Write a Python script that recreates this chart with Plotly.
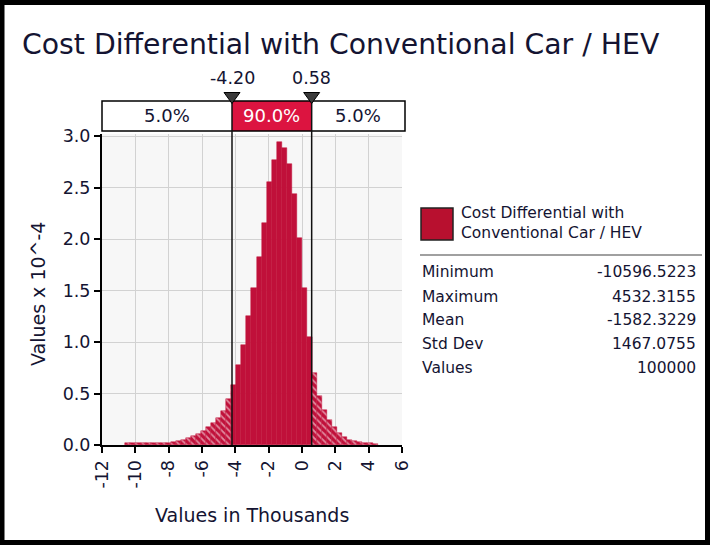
import numpy as np
import plotly.graph_objects as go

# ---------------- data ----------------
title_text = "Cost Differential with Conventional Car / HEV"
series_name = "Cost Differential with<br>Conventional Car / HEV"

stat_names = ["Minimum", "Maximum", "Mean", "Std Dev", "Values"]
stat_values = [-10596.5223, 4532.3155, -1582.3229, 1467.0755, 100000]

# 90% interval delimiters (thousands)
p_low = -4.20
p_high = 0.58
band_pcts = [5.0, 90.0, 5.0]

# histogram: 50 equal bins between min and max, densities (x 10^-4)
n_bins = 50
densities = [
    0.018, 0.018, 0.019, 0.019, 0.020, 0.020, 0.021, 0.022, 0.024, 0.030,
    0.040, 0.050, 0.065, 0.085, 0.110, 0.140, 0.170, 0.210, 0.260, 0.330,
    0.450, 0.580, 0.780, 0.970, 1.250, 1.520, 1.830, 2.160, 2.550, 2.770,
    2.940, 2.880, 2.730, 2.440, 2.010, 1.520, 1.050, 0.700, 0.480, 0.340,
    0.240, 0.170, 0.115, 0.075, 0.050, 0.035, 0.025, 0.020, 0.015, 0.012,
]

x_ticks = [-12, -10, -8, -6, -4, -2, 0, 2, 4, 6]
y_ticks = [0.0, 0.5, 1.0, 1.5, 2.0, 2.5, 3.0]

# ---------------- layout geometry ----------------
W, H = 710, 545
L, R, T, B = 102, 308, 134, 100
PW = W - L - R
PH = H - T - B
XMIN, XMAX = -12, 6
YMIN, YMAX = 0, 3.02

FONT = "DejaVu Sans"
TXT = "#141432"
BAR = "#c0103a"
BAND_RED = "#dc1440"


def fx(px):
    return (px - L) / PW


def fy(py):
    return (H - B - py) / PH


# ---------------- bars (split at delimiters) ----------------
edges = np.linspace(stat_values[0], stat_values[1], n_bins + 1) / 1000.0
bx, bw, by, bshape = [], [], [], []
for i, h in enumerate(densities):
    a, b = edges[i], edges[i + 1]
    cuts = [a] + [c for c in (p_low, p_high) if a < c < b] + [b]
    for lo, hi in zip(cuts[:-1], cuts[1:]):
        mid = (lo + hi) / 2
        bx.append(mid)
        bw.append(hi - lo)
        by.append(h)
        bshape.append("" if p_low <= mid <= p_high else "\\")

fig = go.Figure()
fig.add_trace(go.Bar(
    x=bx, y=by, width=bw,
    marker=dict(color=BAR, line=dict(color=BAR, width=0.5),
                pattern=dict(shape=bshape, fgcolor="white", bgcolor=BAR,
                             size=5, solidity=0.35, fillmode="overlay")),
    hoverinfo="skip", showlegend=False,
))

shapes = []
annotations = []

# outer frame
shapes.append(dict(type="rect", xref="paper", yref="paper",
                   x0=fx(2), x1=fx(707.5), y0=fy(542.5), y1=fy(2.5),
                   line=dict(color="black", width=5), fillcolor="rgba(0,0,0,0)"))

# band boxes
band_top, band_bot = fy(101), fy(131)
shapes.append(dict(type="rect", xref="paper", yref="paper", x0=fx(102), x1=fx(405),
                   y0=band_bot, y1=band_top, fillcolor="white", line=dict(width=0)))
shapes.append(dict(type="rect", xref="x", yref="paper", x0=p_low, x1=p_high,
                   y0=band_bot, y1=band_top, fillcolor=BAND_RED, line=dict(width=0)))
shapes.append(dict(type="rect", xref="paper", yref="paper", x0=fx(102), x1=fx(405),
                   y0=band_bot, y1=band_top, fillcolor="rgba(0,0,0,0)",
                   line=dict(color="black", width=1.5)))

# delimiter lines and triangles
hw = 8 / PW * (XMAX - XMIN)
for v in (p_low, p_high):
    shapes.append(dict(type="line", xref="x", yref="paper", x0=v, x1=v,
                       y0=0, y1=band_top, line=dict(color="#111111", width=1.5)))
    shapes.append(dict(type="path", xref="x", yref="paper",
                       path=f"M {v - hw},{fy(92.5)} L {v + hw},{fy(92.5)} L {v},{fy(103.5)} Z",
                       fillcolor="#3a3a3a", line=dict(color="black", width=1)))
    annotations.append(dict(x=v, y=fy(78), xref="x", yref="paper",
                            text=f"{v:.2f}", showarrow=False,
                            xanchor="center", yanchor="middle",
                            font=dict(family=FONT, size=17.5, color=TXT)))

# band texts
x_left_edge = XMIN + (102 - L) / PW * (XMAX - XMIN)
x_right_edge = XMIN + (405 - L) / PW * (XMAX - XMIN)
centers = [(x_left_edge + p_low) / 2, (p_low + p_high) / 2, (p_high + x_right_edge) / 2]
for c, p, col in zip(centers, band_pcts, [TXT, "white", TXT]):
    annotations.append(dict(x=c, y=fy(116), xref="x", yref="paper",
                            text=f"{p:.1f}%", showarrow=False,
                            xanchor="center", yanchor="middle",
                            font=dict(family=FONT, size=18, color=col)))

# title
annotations.append(dict(x=fx(20), y=fy(45), xref="paper", yref="paper",
                        text=title_text, showarrow=False,
                        xanchor="left", yanchor="middle",
                        font=dict(family=FONT, size=28.3, color=TXT)))

# legend
shapes.append(dict(type="rect", xref="paper", yref="paper",
                   x0=fx(421), x1=fx(453), y0=fy(240), y1=fy(208),
                   fillcolor="#b8102f", line=dict(color="#222222", width=1.5)))
annotations.append(dict(x=fx(459), y=fy(223), xref="paper", yref="paper",
                        text=series_name, showarrow=False, align="left",
                        xanchor="left", yanchor="middle",
                        font=dict(family=FONT, size=15.5, color=TXT)))
shapes.append(dict(type="line", xref="paper", yref="paper",
                   x0=fx(420), x1=fx(702), y0=fy(255), y1=fy(255),
                   line=dict(color="#808080", width=1.5)))

# statistics
row_y = [272, 296.5, 320, 344, 368]
for name, val, ry in zip(stat_names, stat_values, row_y):
    vtxt = f"{val:d}" if isinstance(val, int) else f"{val:.4f}"
    annotations.append(dict(x=fx(420), y=fy(ry), xref="paper", yref="paper",
                            text=name, showarrow=False, xanchor="left", yanchor="middle",
                            font=dict(family=FONT, size=15.5, color=TXT)))
    annotations.append(dict(x=fx(698), y=fy(ry), xref="paper", yref="paper",
                            text=vtxt, showarrow=False, xanchor="right", yanchor="middle",
                            font=dict(family=FONT, size=15.5, color=TXT)))

# axis titles
annotations.append(dict(x=fx(252), y=fy(515), xref="paper", yref="paper",
                        text="Values in Thousands", showarrow=False,
                        xanchor="center", yanchor="middle",
                        font=dict(family=FONT, size=19, color=TXT)))
annotations.append(dict(x=fx(38), y=fy(294), xref="paper", yref="paper",
                        text="Values x 10^-4", showarrow=False, textangle=-90,
                        xanchor="center", yanchor="middle",
                        font=dict(family=FONT, size=19, color=TXT)))

fig.update_layout(
    width=W, height=H,
    margin=dict(l=L, r=R, t=T, b=B, pad=0),
    paper_bgcolor="white", plot_bgcolor="#f7f7f7",
    font=dict(family=FONT, color=TXT),
    shapes=shapes, annotations=annotations,
    bargap=0,
    xaxis=dict(range=[XMIN, XMAX], tickmode="array", tickvals=x_ticks,
               ticktext=[str(v) for v in x_ticks], tickangle=-90,
               ticks="outside", ticklen=6, tickwidth=1.5, tickcolor="black",
               showline=True, linecolor="black", linewidth=2,
               showgrid=True, gridcolor="#d2d2d2", gridwidth=1, zeroline=False,
               tickfont=dict(family=FONT, size=17.5, color=TXT)),
    yaxis=dict(range=[YMIN, YMAX], tickmode="array", tickvals=y_ticks,
               ticktext=[f"{v:.1f}" for v in y_ticks],
               ticks="outside", ticklen=6, tickwidth=1.5, tickcolor="black",
               showline=True, linecolor="black", linewidth=2,
               showgrid=True, gridcolor="#d2d2d2", gridwidth=1, zeroline=False,
               tickfont=dict(family=FONT, size=17.5, color=TXT)),
)

fig.write_html(
    "out.html",
    config={"displayModeBar": False},
    post_script="document.body.style.margin='0';document.body.style.overflow='hidden';",
)
